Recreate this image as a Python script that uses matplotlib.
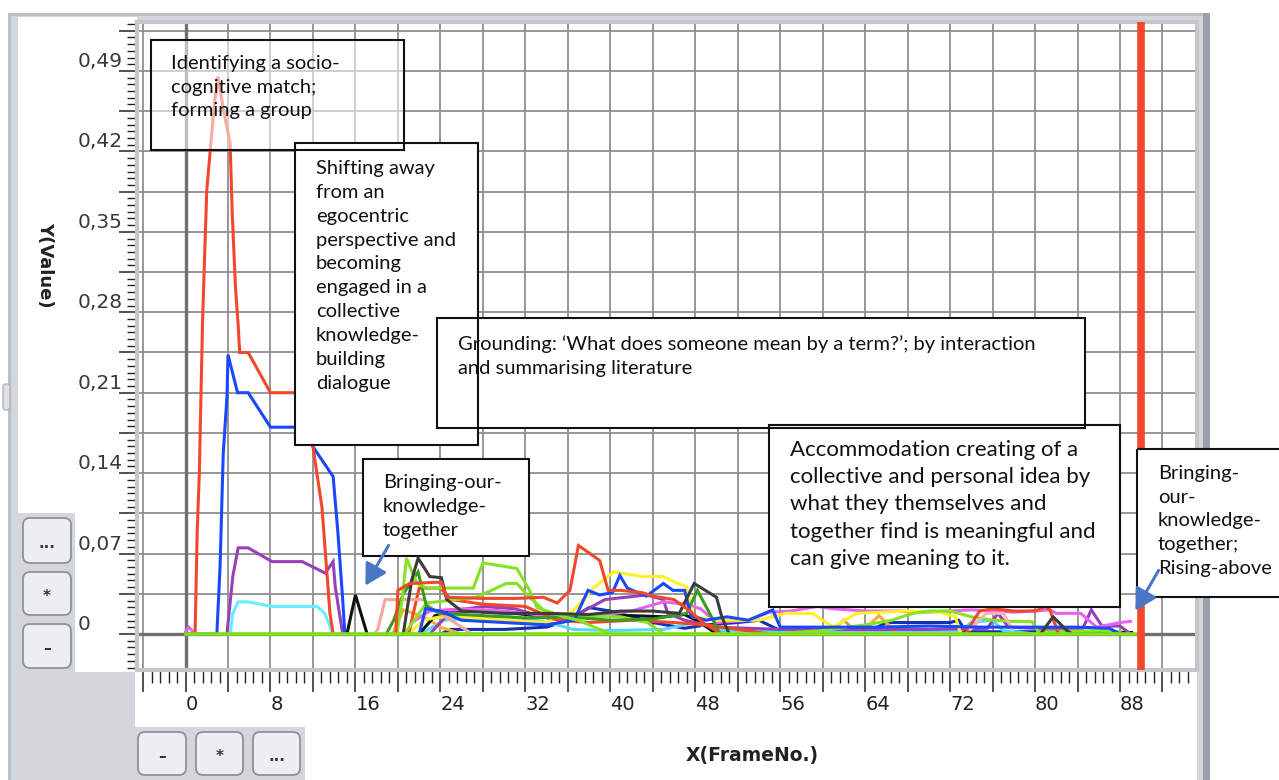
import matplotlib
matplotlib.use('Agg')
import matplotlib.pyplot as plt
from matplotlib.patches import Rectangle, FancyBboxPatch, FancyArrowPatch
import numpy as np

W, H = 1279, 780

# ---------------- data (frame, value) ----------------
red_peak_x = [0, 0.9, 1.1, 1.3, 1.45, 1.6, 1.8, 2.0, 2.3, 2.7, 3.05, 3.6, 4.2, 4.4, 4.7, 4.95, 5.1, 5.9, 8.0, 11.0, 12.0, 12.85, 13.6, 13.9]
red_peak_y = [0, 0, 0.09, 0.14, 0.206, 0.27, 0.33, 0.386, 0.418, 0.46, 0.485, 0.455, 0.427, 0.366, 0.302, 0.27, 0.245, 0.245, 0.21, 0.21, 0.163, 0.11, 0.018, 0]

blue_peak_x = [0, 2.95, 3.25, 3.55, 3.9, 4.0, 4.9, 5.9, 8.0, 11.0, 12.0, 13.9, 14.35, 14.8, 15.0]
blue_peak_y = [0, 0, 0.058, 0.157, 0.206, 0.243, 0.21, 0.21, 0.18, 0.18, 0.163, 0.137, 0.088, 0.03, 0]

purple_a_x = [3.9, 4.45, 4.95, 5.9, 8.15, 11.0, 13.15, 13.9, 14.1, 14.8]
purple_a_y = [0, 0.05, 0.075, 0.075, 0.063, 0.063, 0.053, 0.063, 0.041, 0]

cyan_a_x = [4.2, 4.45, 4.95, 5.9, 8.15, 12.4, 13.1, 13.9]
cyan_a_y = [0, 0.018, 0.028, 0.028, 0.024, 0.024, 0.018, 0]

black_a_x = [15.2, 16.0, 17.1]
black_a_y = [0, 0.034, 0]

magenta_a_x = [0, 0.3, 0.9]
magenta_a_y = [0.002, 0.006, 0]

salmon_x = [17.8, 18.1, 18.8, 22.4, 23.2, 25.0, 27.0]
salmon_y = [0, 0.004, 0.03, 0.03, 0.022, 0.012, 0]

dkgreen_x = [18.9, 19.6, 20.5, 21.9, 22.7, 24.0, 28.0, 32.0, 36.0, 40.0, 44.0, 47.2, 48.2, 49.7, 50.3]
dkgreen_y = [0, 0.012, 0.035, 0.054, 0.024, 0.018, 0.016, 0.014, 0.015, 0.012, 0.013, 0.018, 0.038, 0.012, 0]

lime_a_x = [19.9, 20.4, 20.8, 21.8, 22.7, 27.1, 28.0, 31.2, 32.4, 33.1, 35.6, 37.0, 38.5, 40.0]
lime_a_y = [0, 0.03, 0.066, 0.044, 0.04, 0.04, 0.062, 0.057, 0.038, 0.023, 0.015, 0.012, 0.006, 0]

lime_b_x = [20.6, 22.7, 27.4, 30.2, 31.2, 32.4, 33.7, 35.6, 38.0, 41.0, 43.5, 45.0]
lime_b_y = [0, 0.027, 0.032, 0.044, 0.044, 0.032, 0.021, 0.015, 0.016, 0.015, 0.01, 0]

lime_c_x = [55.0, 60.0, 64.0, 66.5, 68.5, 70.0, 72.0, 74.0, 76.0, 77.9, 79.7, 80.3, 82.0, 86.0, 88.0]
lime_c_y = [0, 0.003, 0.008, 0.012, 0.018, 0.02, 0.02, 0.015, 0.012, 0.011, 0.011, 0.002, 0.002, 0.003, 0.002]

dkgray_x = [20.5, 21.3, 21.9, 23.0, 24.1, 24.6, 26.0, 30.0, 34.0, 38.0, 41.0, 44.0, 46.5, 47.9, 50.0, 50.5, 51.2]
dkgray_y = [0, 0.047, 0.066, 0.05, 0.049, 0.03, 0.02, 0.018, 0.018, 0.017, 0.02, 0.02, 0.018, 0.044, 0.032, 0.015, 0]

dkgray_b_x = [80.5, 81.7, 83.0, 83.5]
dkgray_b_y = [0, 0.015, 0.003, 0]

black_b_x = [22.0, 23.5, 25.0, 29.0, 33.0, 36.0, 38.5, 42.0, 45.0, 47.0, 48.5, 50.0]
black_b_y = [0, 0.016, 0.02, 0.02, 0.016, 0.015, 0.016, 0.016, 0.015, 0.017, 0.01, 0]

black_c_x = [87.6, 89.0]
black_c_y = [0.002, 0.002]

red_b_x = [19.8, 20.0, 21.1, 23.5, 24.1, 24.6, 28.0, 31.2, 33.7, 35.0, 36.2, 37.0, 38.1, 39.0, 39.8, 41.0, 43.0, 44.0, 46.0, 47.5, 49.0, 50.5]
red_b_y = [0, 0.038, 0.044, 0.045, 0.045, 0.032, 0.031, 0.031, 0.032, 0.027, 0.038, 0.077, 0.07, 0.064, 0.038, 0.038, 0.036, 0.033, 0.03, 0.02, 0.008, 0]

red_c_x = [21.0, 22.0, 24.0, 25.0, 28.0, 32.0, 35.0, 38.0, 42.0, 46.0, 49.0, 52.0, 55.0]
red_c_y = [0, 0.04, 0.04, 0.03, 0.026, 0.024, 0.012, 0.01, 0.012, 0.01, 0.008, 0.004, 0]

red_d_x = [73.5, 74.2, 74.8, 76.0, 78.0, 80.0, 81.0, 81.4, 82.2]
red_d_y = [0, 0.012, 0.02, 0.022, 0.02, 0.02, 0.024, 0.021, 0]

blue_b_x = [22.0, 22.6, 24.0, 26.0, 30.0, 34.0, 36.6, 37.9, 39.0, 40.2, 40.9, 41.6, 43.4, 45.0, 45.9, 47.0, 47.6, 49.0, 51.0, 53.0, 55.3, 56.0, 60.0, 65.0, 70.0, 75.0, 80.0, 84.0, 87.0, 88.0]
blue_b_y = [0, 0.022, 0.02, 0.012, 0.01, 0.008, 0.012, 0.038, 0.034, 0.036, 0.051, 0.04, 0.033, 0.044, 0.038, 0.038, 0.016, 0.012, 0.015, 0.012, 0.021, 0.006, 0.006, 0.006, 0.007, 0.006, 0.006, 0.006, 0.005, 0]

navy_x = [24.0, 25.0, 30.0, 34.0, 36.0, 38.0, 40.0, 44.0, 47.0, 49.0, 52.0, 54.0, 56.0, 60.0, 64.5, 66.0, 72.0, 72.8, 73.5, 80.0, 86.0, 87.0]
navy_y = [0, 0.004, 0.004, 0.006, 0.012, 0.023, 0.02, 0.01, 0.005, 0.008, 0.01, 0.012, 0.003, 0.002, 0.003, 0.01, 0.01, 0.012, 0.002, 0.002, 0.002, 0]

yellow_x = [21.0, 22.4, 24.0, 26.0, 30.0, 34.0, 36.5, 38.4, 40.3, 43.1, 45.0, 45.6, 47.2, 47.8, 50.0, 54.0, 56.5, 59.0, 61.0, 63.2, 68.0, 71.0, 72.5, 73.0]
yellow_y = [0, 0.012, 0.015, 0.015, 0.012, 0.01, 0.02, 0.04, 0.054, 0.05, 0.05, 0.047, 0.041, 0.015, 0.012, 0.012, 0.018, 0.018, 0.006, 0.018, 0.02, 0.019, 0.015, 0]

magenta_x = [21.0, 21.3, 23.0, 26.0, 30.0, 34.0, 38.0, 42.0, 45.0, 47.0, 48.5, 50.0, 53.0, 55.0, 57.0, 59.5, 61.0, 64.0, 67.0, 70.0, 74.0, 78.0, 81.4, 82.0, 84.3, 85.8, 88.0, 89.0]
magenta_y = [0, 0.01, 0.02, 0.022, 0.02, 0.016, 0.015, 0.02, 0.028, 0.026, 0.022, 0.01, 0.012, 0.019, 0.02, 0.024, 0.022, 0.02, 0.02, 0.019, 0.021, 0.019, 0.021, 0.018, 0.018, 0.006, 0.01, 0.011]

purple_b_x = [23.0, 25.0, 28.0, 31.0, 34.0, 36.0, 37.5, 39.5, 43.4, 45.0, 45.4, 47.0, 50.0, 56.0, 62.0, 70.0, 75.5, 76.5, 77.5, 80.0, 84.5, 85.3, 86.3, 88.0, 89.0]
purple_b_y = [0, 0.02, 0.024, 0.022, 0.014, 0.012, 0.02, 0.03, 0.034, 0.03, 0.018, 0.012, 0.006, 0.004, 0.004, 0.004, 0.005, 0.018, 0.006, 0.005, 0.005, 0.021, 0.007, 0.007, 0]

cyan_b_x = [22.0, 22.7, 24.3, 27.0, 30.0, 33.0, 35.0, 36.5, 40.0, 45.0, 48.0, 50.0, 60.0, 73.0, 74.0, 76.0, 77.0, 80.0]
cyan_b_y = [0, 0.003, 0.012, 0.014, 0.016, 0.012, 0.008, 0.004, 0.003, 0.004, 0.01, 0.003, 0.002, 0.003, 0.01, 0.012, 0.003, 0]

orange_a_x = [19.5, 20.5, 21.8, 23.0, 24.0, 26.0]
orange_a_y = [0, 0.021, 0.017, 0.012, 0.006, 0]
orange_b_x = [63.6, 64.6, 65.3, 66.2, 67.0]
orange_b_y = [0, 0.01, 0.016, 0.008, 0]

olive_x = [61.0, 62.0, 62.9]
olive_y = [0.004, 0.012, 0.004]

lightpink_x = [73.9, 75.4, 77.0, 77.9]
lightpink_y = [0.004, 0.018, 0.018, 0.004]

brown_x = [63.0, 64.0, 73.0, 74.0]
brown_y = [0, 0.003, 0.003, 0]

base_x = [0, 89.7]
base_y = [0, 0]

cursor_frame = 90

RED, BLUE, PURPLE, CYAN = '#f2472a', '#1a48ff', '#9a3fba', '#66eeff'
series = [
    (navy_x, navy_y, '#1232b4'), (brown_x, brown_y, '#a8241e'),
    (cyan_b_x, cyan_b_y, '#55d8ff'), (orange_a_x, orange_a_y, '#ffad30'),
    (orange_b_x, orange_b_y, '#ffad30'), (olive_x, olive_y, '#b8aa40'),
    (black_b_x, black_b_y, '#111111'), (black_c_x, black_c_y, '#111111'),
    (purple_b_x, purple_b_y, PURPLE), (magenta_x, magenta_y, '#e765ee'),
    (yellow_x, yellow_y, '#fff02a'), (lime_c_x, lime_c_y, '#84e424'),
    (red_c_x, red_c_y, RED), (red_d_x, red_d_y, RED),
    (lightpink_x, lightpink_y, '#f6b4b4'), (salmon_x, salmon_y, '#f5a89e'),
    (lime_b_x, lime_b_y, '#84e424'), (dkgreen_x, dkgreen_y, '#3a9a1e'),
    (blue_b_x, blue_b_y, BLUE), (lime_a_x, lime_a_y, '#84e424'),
    (dkgray_x, dkgray_y, '#3c3c3c'), (dkgray_b_x, dkgray_b_y, '#3c3c3c'),
    (red_b_x, red_b_y, RED), (magenta_a_x, magenta_a_y, '#e765ee'),
    (black_a_x, black_a_y, '#111111'), (cyan_a_x, cyan_a_y, CYAN),
    (purple_a_x, purple_a_y, PURPLE), (blue_peak_x, blue_peak_y, BLUE),
    (red_peak_x, red_peak_y, RED),
]

# ---------------- figure ----------------
fig = plt.figure(figsize=(W / 100, H / 100), dpi=100)
fig.patch.set_facecolor('white')

def pixel_axes(z):
    a = fig.add_axes([0, 0, 1, 1], zorder=z)
    a.set_xlim(0, W)
    a.set_ylim(H, 0)
    a.axis('off')
    a.patch.set_alpha(0)
    return a

bg = pixel_axes(-1)

def rect(a, x0, y0, x1, y1, fc, ec='none', lw=0, alpha=1, z=1):
    a.add_patch(Rectangle((x0, y0), x1 - x0, y1 - y0, facecolor=fc, edgecolor=ec,
                          linewidth=lw, alpha=alpha, zorder=z))

# window frame
rect(bg, 8, 13, 1210, 780, '#d3d7dc')
rect(bg, 8, 13, 1210, 16, '#bcc1c7')
rect(bg, 8, 13, 11, 780, '#bcc1c7')
rect(bg, 18, 17, 137, 513, 'white')
rect(bg, 75, 513, 137, 672, 'white')
rect(bg, 135, 670, 1197, 727, 'white')
rect(bg, 305, 727, 1197, 780, 'white')
rect(bg, 1203, 13, 1210, 780, '#9aa1aa')
bg.add_patch(FancyBboxPatch((3, 384), 7, 26, boxstyle='round,pad=0,rounding_size=3',
                            fc='#dfe2e6', ec='#b0b5bb', lw=1))

def button(x0, y0, x1, y1, label):
    bg.add_patch(FancyBboxPatch((x0, y0), x1 - x0, y1 - y0,
                                boxstyle='round,pad=0,rounding_size=7',
                                fc='#eceef1', ec='#8d9299', lw=1.3, zorder=2))
    bg.text((x0 + x1) / 2, (y0 + y1) / 2 + 3, label, ha='center', va='center',
            fontsize=11, color='#333333', fontweight='bold', zorder=3)

button(23, 518, 71, 563, '...')
button(23, 572, 71, 615, '*')
button(23, 624, 71, 668, '–')
button(138, 732, 186, 775, '–')
button(196, 732, 243, 775, '*')
button(253, 732, 300, 775, '...')

# ---------------- main chart ----------------
L, R, T, B = 137, 1197, 22, 670
ax = fig.add_axes([L / W, 1 - B / H, (R - L) / W, (B - T) / H], zorder=0)
ax.set_facecolor('white')
ax.set_xlim(-4.57, 95.25)
ax.set_ylim(-0.0313, 0.5326)

xt = np.arange(-4, 93, 4)
ax.set_xticks(xt, labels=[str(t) if (t >= 0 and t % 8 == 0 and t <= 88) else '' for t in xt])
ax.set_xticks(np.arange(-4.0, 95.2, 0.8), minor=True)
yt = np.arange(0, 16) * 0.035
ax.set_yticks(yt, labels=[('0' if i == 0 else f'{v:.2f}'.replace('.', ',')) if i % 2 == 0 else ''
                          for i, v in enumerate(yt)])
ax.set_yticks(np.arange(-5, 92) * 0.035 / 6, minor=True)

ax.tick_params(axis='x', which='major', direction='out', length=16, width=1.1,
               color='#222222', pad=2, labelsize=14, labelcolor='#222222')
ax.tick_params(axis='x', which='minor', direction='out', length=9, width=1.0, color='#222222')
ax.tick_params(axis='y', which='major', direction='out', length=13, width=1.1,
               color='#222222', pad=30, labelsize=14.5, labelcolor='#3a3a3a')
ax.tick_params(axis='y', which='minor', direction='out', length=7, width=1.0, color='#222222')
for lab in ax.get_xticklabels():
    lab.set_ha('left')
for lab in ax.get_yticklabels():
    lab.set_va('bottom')
    lab.set_ha('left')

ax.grid(True, which='major', color='#8f8f8f', lw=1.3)
ax.set_axisbelow(True)
for s in ax.spines.values():
    s.set_color('#c3c7cc')
    s.set_linewidth(3)
ax.axhline(0, color='#707070', lw=2.4, zorder=1)
ax.axvline(0, color='#707070', lw=2.4, zorder=1)

for xs, ys, c in series:
    ax.plot(xs, ys, color=c, lw=2.2, zorder=2, solid_joinstyle='miter')
ax.plot(base_x, base_y, color='#80e01c', lw=2.6, zorder=3)
ax.axvline(cursor_frame, color=RED, lw=5.5, zorder=4)

ax.set_xlabel('X(FrameNo.)', fontsize=13.5, fontweight='bold', color='#222222', va='center')
ax.xaxis.set_label_coords((752 - L) / (R - L), 1 - (755 - T) / (B - T))
ax.set_ylabel('Y(Value)', fontsize=13, fontweight='bold', color='#222222',
              rotation=-90, va='center', ha='center')
ax.yaxis.set_label_coords((45 - L) / (R - L), 1 - (265 - T) / (B - T))

# ---------------- annotation boxes ----------------
top = pixel_axes(5)
FONT = ['Lato', 'DejaVu Sans']
boxes = [
    (151, 40, 404, 150, 0.55, 171, 55, 14.5, 1.48,
     "Identifying a socio-\ncognitive match;\nforming a group"),
    (295, 143, 478, 445, 1.0, 316, 160, 14.5, 1.49,
     "Shifting away\nfrom an\negocentric\nperspective and\nbecoming\nengaged in a\ncollective\nknowledge-\nbuilding\ndialogue"),
    (437, 318, 1085, 428, 1.0, 458, 335, 14.5, 1.48,
     "Grounding: \u2018What does someone mean by a term?\u2019; by interaction\nand summarising literature"),
    (363, 459, 529, 556, 1.0, 383, 474, 14.5, 1.5,
     "Bringing-our-\nknowledge-\ntogether"),
    (769, 425, 1120, 607, 1.0, 790, 440, 16, 1.45,
     "Accommodation creating of a\ncollective and personal idea by\nwhat they themselves and\ntogether find is meaningful and\ncan give meaning to it."),
    (1137, 449, 1295, 597, 1.0, 1158, 465, 14.5, 1.48,
     "Bringing-\nour-\nknowledge-\ntogether;\nRising-above"),
]
for x0, y0, x1, y1, alpha, tx, ty, fs, ls, txt in boxes:
    rect(top, x0, y0, x1, y1, 'white', alpha=alpha, z=2)
    rect(top, x0, y0, x1, y1, 'none', ec='#111111', lw=1.5, z=3)
    top.text(tx, ty, txt, ha='left', va='top', fontsize=fs, family=FONT,
             color='#111111', linespacing=ls, zorder=4)

for (xa, ya), (xb, yb) in [((390, 543), (364, 588)), ((1160, 568), (1134, 613))]:
    top.add_patch(FancyArrowPatch((xa, ya), (xb, yb), arrowstyle='-|>,head_length=0.8,head_width=0.45',
                                  mutation_scale=16, color='#4a76c6', lw=2.2, zorder=6))

fig.savefig('out.png', dpi=100)
